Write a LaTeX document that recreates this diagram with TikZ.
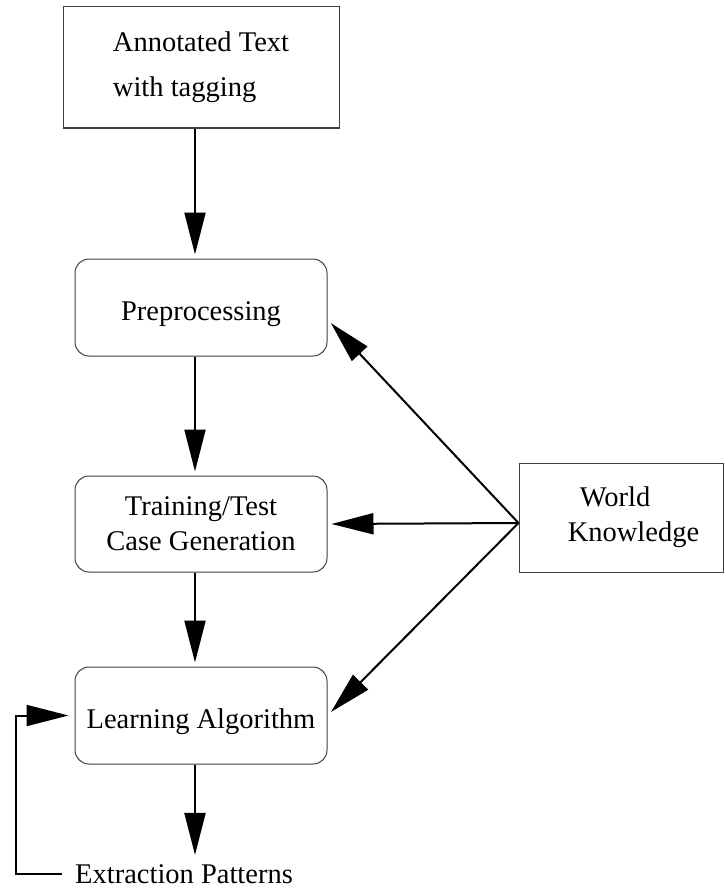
\documentclass[tikz,border=0pt]{standalone}
\usepackage{fontspec}
\setmainfont{Liberation Serif}
\usetikzlibrary{arrows.meta,calc}

\tikzset{
  box/.style={draw=black!75, line width=1pt, inner sep=0pt, minimum width=252pt, minimum height=97pt, font=\fontsize{28.5}{35}\selectfont, align=center},
  roundbox/.style={box, rounded corners=14pt},
  oneline/.style={text height=25pt, text depth=0pt},
  flow/.style={line width=2pt, -{Triangle[length=42pt,width=21pt]}, shorten >=4pt},
}

\begin{document}
\begin{tikzpicture}[x=1pt,y=1pt,yscale=-1]
\useasboundingbox (0,0) rectangle (725,888);

%Shape: Rectangle [anno]
\node [box, minimum width=276pt, minimum height=121pt, align=left] (anno) at (201,67.5) {Annotated Text\\[10pt]with tagging};
%Shape: Rounded Rect [prep]
\node [roundbox, oneline] (prep) at (201,307.5) {Preprocessing};
%Shape: Rounded Rect [train]
\node [roundbox, minimum height=96pt] (train) at (201,524) {Training/Test\\Case Generation};
%Shape: Rounded Rect [learn]
\node [roundbox, oneline] (learn) at (201,715.5) {Learning Algorithm};
%Shape: Rectangle [wk]
\node [box, minimum width=204pt, minimum height=109pt, align=left] (wk) at (621,517.5) {\hspace*{37pt}World\\\hspace*{25pt}Knowledge};
% Text Node
\node [anchor=base west, inner sep=0pt, font=\fontsize{28.5}{35}\selectfont] (ext) at (75,883) {Extraction Patterns};

%Straight Lines down the column
\draw [flow] ($(anno.south)+(-6,0)$) -- ($(prep.north)+(-6,0)$);
\draw [flow] ($(prep.south)+(-6,0)$) -- ($(train.north)+(-6,0)$);
\draw [flow] ($(train.south)+(-6,0)$) -- ($(learn.north)+(-6,0)$);
\draw [flow, shorten >=9pt] ($(learn.south)+(-6,0)$) -- ($(learn.south |- ext.north)+(-6,0)$);

%Straight Lines from world knowledge
\coordinate (wkout) at ($(wk.west)+(0,5.5)$);
\draw [flow, shorten >=5pt] (wkout) -- ($(prep.east)+(0,12)$);
\draw [flow] (wkout) -- (train.east);
\draw [flow, shorten >=5pt] (wkout) -- (learn.east);

%Feedback line
\draw [flow, shorten <=13pt, shorten >=6pt] (ext.west) -- ++(-59,0) |- (learn.west);

\end{tikzpicture}
\end{document}
